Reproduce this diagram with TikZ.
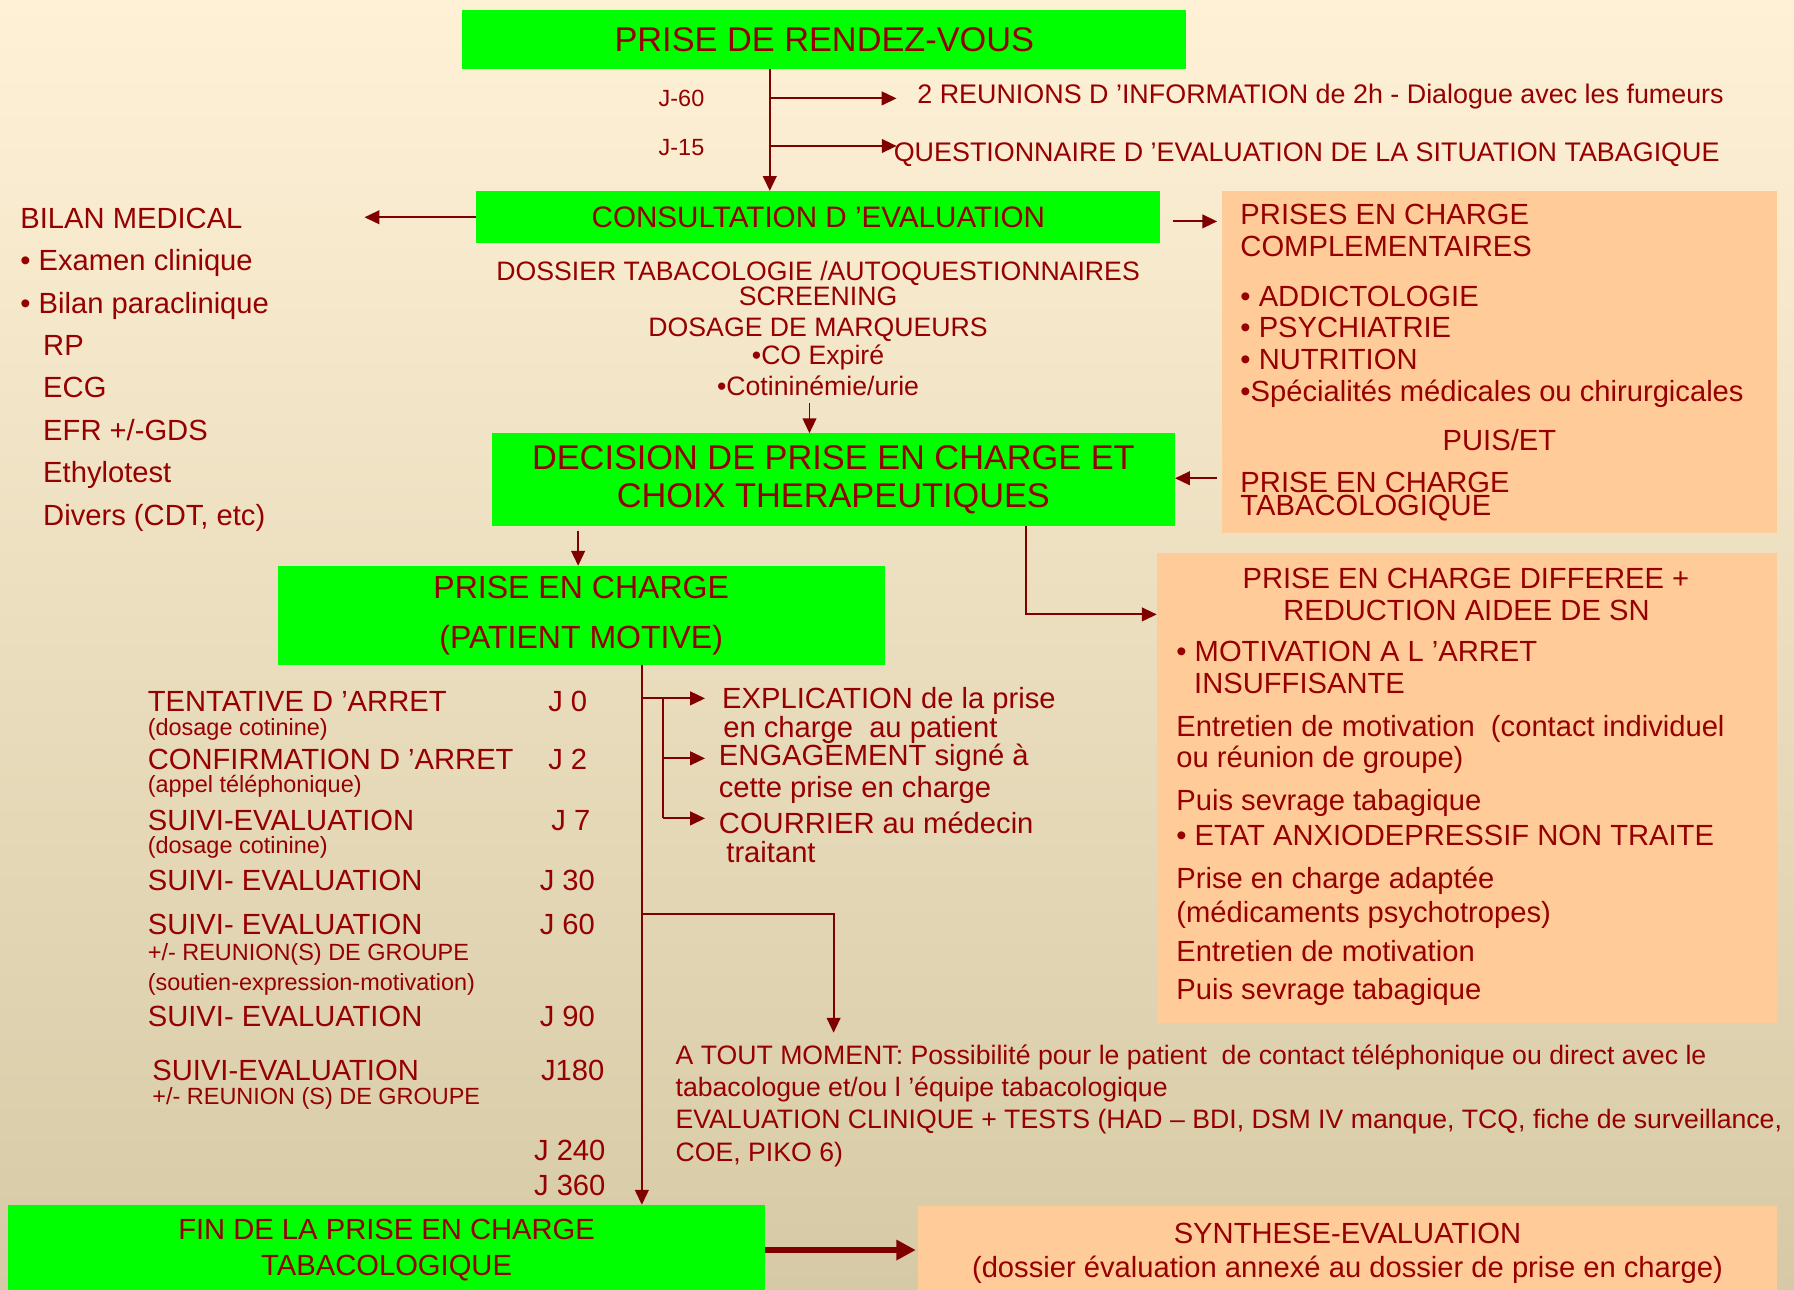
\documentclass[tikz,border=0pt]{standalone}
\usepackage{fontspec}
\setmainfont{Liberation Sans}
\usetikzlibrary{arrows.meta}
\definecolor{fondhaut}{RGB}{255,241,214}
\definecolor{fondmil}{RGB}{244,234,211}
\definecolor{fondbas}{RGB}{214,202,166}
\definecolor{vertvif}{RGB}{0,255,0}
\definecolor{peche}{RGB}{255,204,153}
\definecolor{rouge}{RGB}{150,0,0}
\definecolor{bordeaux}{RGB}{128,0,0}
\newcommand{\ftitre}{\fontsize{30}{32.9}\selectfont}
\newcommand{\fnorm}{\fontsize{25.5}{30}\selectfont}
\newcommand{\fmoy}{\fontsize{23.3}{28}\selectfont}
\newcommand{\fpetit}{\fontsize{20.5}{24}\selectfont}
\tikzstyle{boxvert}=[fill=vertvif, text=rouge, inner sep=0pt, align=center]
\tikzstyle{boxpeche}=[fill=peche, text=rouge, inner sep=0pt, align=center]
\tikzstyle{txt}=[text=rouge, inner sep=0pt, anchor=base west, font=\fnorm]
\tikzstyle{txtc}=[text=rouge, inner sep=0pt, anchor=base, font=\fnorm]
\tikzstyle{ligne}=[draw=bordeaux, line width=1.6pt]
\tikzstyle{fl}=[->, draw=bordeaux, line width=1.6pt]

\begin{document}
\begin{tikzpicture}[x=1pt,y=-1pt,>={Triangle[length=13pt,width=12pt]}]
        \shade[top color=fondhaut, middle color=fondmil, bottom color=fondbas] (0,0) rectangle (1568,1127);
        \useasboundingbox (0,0) rectangle (1568,1127);

        % boites
        \node [boxvert, minimum width=633pt, minimum height=51.6pt, font=\ftitre] (rdv) at (720.5,34.5) {PRISE DE RENDEZ-VOUS};
        \node [boxvert, minimum width=597.5pt, minimum height=45.7pt, font=\fontsize{25.9}{30}\selectfont] (consult) at (715.2,189.9) {CONSULTATION D ’EVALUATION};
        \node [boxvert, minimum width=596.8pt, minimum height=80.7pt, font=\ftitre] (decision) at (728.4,419.2) {DECISION DE PRISE EN CHARGE ET\\CHOIX THERAPEUTIQUES};
        \node [boxvert, minimum width=530.3pt, minimum height=86.6pt, font=\fontsize{28}{43.7}\selectfont] (pec) at (508,538) {PRISE EN CHARGE\\(PATIENT MOTIVE)};
        \node [boxvert, minimum width=661.8pt, minimum height=78.7pt, font=\fontsize{25.5}{31.3}\selectfont] (fin) at (337.9,1092.55) {FIN DE LA PRISE EN CHARGE\\TABACOLOGIQUE};
        \node [boxpeche, minimum width=485pt, minimum height=299pt] (compl) at (1310.5,316.5) {};
        \node [boxpeche, minimum width=541.8pt, minimum height=410.3pt] (diff) at (1282.1,688.75) {};
        \node [boxpeche, minimum width=750.5pt, minimum height=82.4pt, font=\fnorm] (synth) at (1177.75,1095.3) {SYNTHESE-EVALUATION\\(dossier évaluation annexé au dossier de prise en charge)};

        % haut
        \node [txt, font=\fpetit] (j60) at (575.5,92.7) {J-60};
        \node [txt, font=\fpetit] (j15) at (575.5,135.5) {J-15};
        \node [txt, font=\fontsize{23.5}{28}\selectfont] (reunion) at (801.6,90.4) {2 REUNIONS D ’INFORMATION de 2h - Dialogue avec les fumeurs};
        \node [txt, font=\fontsize{23.5}{28}\selectfont] (questionnaire) at (781,141.5) {QUESTIONNAIRE D ’EVALUATION DE LA SITUATION TABAGIQUE};

        % bilan medical
        \node [txt] (bilan) at (17.6,199.6) {BILAN MEDICAL};
        \foreach \xe/\t [count=\i] in {17.6/• Examen clinique, 17.6/• Bilan paraclinique, 37.6/RP, 37.6/ECG, 37.6/{EFR +/-GDS}, 37.6/Ethylotest, 37.6/{Divers (CDT, etc)}}
            \node [txt] (bilan\i) at (\xe,{199.6+37.05*\i}) {\t};

        % sous la consultation
        \foreach \t/\y [count=\i] in {{DOSSIER TABACOLOGIE /AUTOQUESTIONNAIRES}/244.8, SCREENING/266.6, DOSAGE DE MARQUEURS/294.3, •CO Expiré/319, {•Cotininémie/urie}/345.3}
            \node [txtc, font=\fmoy] (dossier\i) at (715,\y) {\t};

        % prises en charge complementaires
        \node [txt] (pc1) at (1084,196.2) {PRISES EN CHARGE};
        \node [txt] (pc2) at (1084,224.2) {COMPLEMENTAIRES};
        \node [txt] (addicto) at (1084,267.9) {• ADDICTOLOGIE};
        \node [txt] (psy) at (1084,295) {• PSYCHIATRIE};
        \node [txt] (nutri) at (1084,322.6) {• NUTRITION};
        \node [txt] (specia) at (1084,350.6) {•Spécialités médicales ou chirurgicales};
        \node [txtc] (puiset) at (1310.5,393.7) {PUIS/ET};
        \node [txt] (pct1) at (1084,430.6) {PRISE EN CHARGE};
        \node [txt] (pct2) at (1084,450.6) {TABACOLOGIQUE};

        % prise en charge differee
        \node [txtc] (diff1) at (1281.2,514.2) {PRISE EN CHARGE DIFFEREE +};
        \node [txtc] (diff2) at (1281.7,541.9) {REDUCTION AIDEE DE SN};
        \foreach \xe/\y/\t [count=\i] in {1028/578.3/• MOTIVATION A L ’ARRET, 1043.5/606/INSUFFISANTE,
            1028/643.9/{Entretien de motivation~ (contact individuel}, 1028/670.4/{ou réunion de groupe)},
            1028/708/Puis sevrage tabagique, 1028/738.6/• ETAT ANXIODEPRESSIF NON TRAITE,
            1028/776.6/Prise en charge adaptée, 1028/806.6/{(médicaments psychotropes)},
            1028/840.6/Entretien de motivation, 1028/874/Puis sevrage tabagique}
            \node [txt] (diffl\i) at (\xe,\y) {\t};

        % suivi
        \foreach \xe/\y/\etape/\xj/\jour [count=\i] in {129/621.6/{TENTATIVE D ’ARRET}/479/J 0,
            129/672.3/{CONFIRMATION D ’ARRET}/479/J 2, 129/725.5/SUIVI-EVALUATION/481.7/J 7,
            129/777.9/SUIVI- EVALUATION/471.6/J 30, 129/817.2/SUIVI- EVALUATION/471.6/J 60,
            129/896.8/SUIVI- EVALUATION/471.6/J 90, 133/944/SUIVI-EVALUATION/472.7/J180}
        {
            \node [txt] (etape\i) at (\xe,\y) {\etape};
            \node [txt] (jour\i) at (\xj,\y) {\jour};
        }
        \node [txt] (j240) at (466.6,1013.9) {J 240};
        \node [txt] (j360) at (466.6,1044.5) {J 360};
        \foreach \xe/\y/\t [count=\i] in {129/642.6/{(dosage cotinine)}, 129/692.7/{(appel téléphonique)},
            129/746/{(dosage cotinine)}, 129/839.1/{+/- REUNION(S) DE GROUPE},
            129/865.4/{(soutien-expression-motivation)}, 133/965/{+/- REUNION (S) DE GROUPE}}
            \node [txt, font=\fpetit] (note\i) at (\xe,\y) {\t};

        \node [txt] (expl) at (631,619.1) {EXPLICATION de la prise};
        \node [txt] (expl2) at (632,645) {en charge~ au patient};
        \node [txt] (engag) at (628.2,669.2) {ENGAGEMENT signé à};
        \node [txt] (engag2) at (628,697) {cette prise en charge};
        \node [txt] (courrier) at (628.2,728.4) {COURRIER au médecin};
        \node [txt] (courrier2) at (634.7,754) {traitant};

        \foreach \t/\y [count=\i] in {{A TOUT MOMENT: Possibilité pour le patient~ de contact téléphonique ou direct avec le}/930.8,
            {tabacologue et/ou l ’équipe tabacologique}/958.5,
            {EVALUATION CLINIQUE + TESTS (HAD – BDI, DSM IV manque, TCQ, fiche de surveillance,}/986.2,
            {COE, PIKO 6)}/1015.4}
            \node [txt, font=\fmoy] (atout\i) at (590.3,\y) {\t};

        % fleches
        \coordinate (b60) at (672.8,86);
        \coordinate (b15) at (672.8,127.6);
        \coordinate (gauche) at (318.6,190.8);
        \coordinate (p1) at (1025,193.5);
        \coordinate (p2) at (1064,418);
        \coordinate (c1) at (707.5,352.6);
        \coordinate (p3) at (505.3,463.8);
        \coordinate (p4) at (896.5,537);
        \coordinate (tige) at (561,610.4);
        \coordinate (sous) at (579.5,610.4);
        \coordinate (b2) at (579.5,662.8);
        \coordinate (b3) at (579.5,715.3);
        \coordinate (p5) at (728.6,799.2);
        \coordinate (p6) at (728.6,902.6);

        \draw[fl] (rdv.south -| b60) -- (consult.north -| b60);
        \draw[fl, shorten >=18pt] (b60) -- (b60 -| reunion.west);
        \draw[fl, shorten >=-2.7pt] (b15) -- (b15 -| questionnaire.west);
        \draw[fl] (consult.west) -- (consult.west -| gauche);
        \draw[fl, shorten >=4pt] (p1) -- (p1 -| compl.west);
        \draw[fl] (c1) -- (c1 |- decision.north);
        \draw[fl] (p2) -- (p2 -| decision.east);
        \draw[fl] (p3) -- (p3 |- pec.north);
        \draw[fl] (decision.south -| p4) -- (p4) -- (p4 -| diff.west);
        \draw[fl] (pec.south -| tige) -- (fin.north -| tige);
        \draw[fl, shorten >=14.8pt] (tige) -- (tige -| expl.west);
        \draw[ligne] (sous) -- (b3);
        \draw[fl, shorten >=12pt] (b2) -- (b2 -| engag.west);
        \draw[fl, shorten >=12pt] (b3) -- (b3 -| courrier.west);
        \draw[fl] (p5 -| tige) -- (p5) -- (p6);
        \draw[->, draw=bordeaux, line width=5pt, >={Triangle[length=17pt,width=17pt]}, shorten >=1.9pt] (fin.east) -- (fin.east -| synth.west);
\end{tikzpicture}
\end{document}
